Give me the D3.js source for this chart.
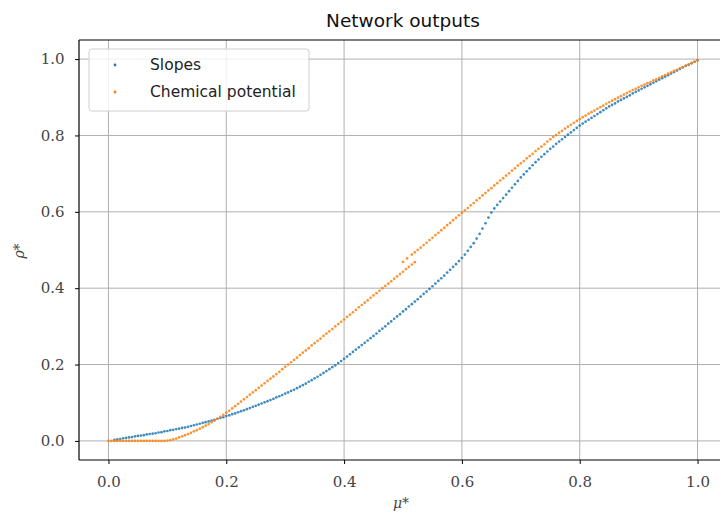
<!DOCTYPE html>
<html><head><meta charset="utf-8">
<script src="https://cdn.jsdelivr.net/npm/d3@7"></script>
<style>body{margin:0;background:#fff}</style>
</head><body>
<svg id="c" width="720" height="516"></svg>
<script>
const title = "Network outputs";
const seriesNames = ["Slopes", "Chemical potential"];
const xTicks = [0.0, 0.2, 0.4, 0.6, 0.8, 1.0];
const yTicks = [0.0, 0.2, 0.4, 0.6, 0.8, 1.0];
const xLabel = "μ*";
const yLabel = "ρ*";

const slopesX = [
0.010,0.015,0.020,0.025,0.030,0.035,0.040,0.045,0.050,0.055,0.060,0.065,0.070,0.075,0.080,0.085,0.090,0.095,0.100,
0.105,0.110,0.115,0.120,0.125,0.130,0.135,0.140,0.145,0.150,0.155,0.160,0.165,0.170,0.175,0.180,0.185,0.190,0.195,0.200,
0.205,0.210,0.215,0.220,0.225,0.230,0.235,0.240,0.245,0.250,0.255,0.260,0.265,0.270,0.275,0.280,0.285,0.290,0.295,0.300,
0.305,0.310,0.315,0.320,0.325,0.330,0.335,0.340,0.345,0.350,0.355,0.360,0.365,0.370,0.375,0.380,0.385,0.390,0.395,0.400,
0.405,0.410,0.415,0.420,0.425,0.430,0.435,0.440,0.445,0.450,0.455,0.460,0.465,0.470,0.475,0.480,0.485,0.490,0.495,0.500,
0.505,0.510,0.515,0.520,0.525,0.530,0.535,0.540,0.545,0.550,0.555,0.560,0.565,0.570,0.575,0.580,0.585,0.590,0.595,0.600,
0.605,0.610,0.615,0.620,0.625,0.630,0.635,0.640,0.645,0.650,0.655,0.660,0.665,0.670,0.675,0.680,0.685,0.690,0.695,0.700,
0.705,0.710,0.715,0.720,0.725,0.730,0.735,0.740,0.745,0.750,0.755,0.760,0.765,0.770,0.775,0.780,0.785,0.790,0.795,0.800,
0.805,0.810,0.815,0.820,0.825,0.830,0.835,0.840,0.845,0.850,0.855,0.860,0.865,0.870,0.875,0.880,0.885,0.890,0.895,0.900,
0.905,0.910,0.915,0.920,0.925,0.930,0.935,0.940,0.945,0.950,0.955,0.960,0.965,0.970,0.975,0.980,0.985,0.990,0.995,1.000];
const slopesY = [
0.003,0.004,0.005,0.007,0.008,0.009,0.010,0.012,0.013,0.014,0.015,0.017,0.018,0.019,0.020,0.022,0.023,0.025,0.026,
0.028,0.029,0.031,0.032,0.034,0.035,0.037,0.039,0.041,0.043,0.045,0.047,0.049,0.051,0.053,0.055,0.058,0.060,0.062,0.065,
0.067,0.070,0.072,0.075,0.078,0.080,0.083,0.086,0.089,0.092,0.095,0.098,0.101,0.104,0.107,0.110,0.114,0.117,0.120,0.124,
0.127,0.131,0.134,0.138,0.142,0.146,0.150,0.155,0.159,0.164,0.168,0.173,0.178,0.183,0.188,0.193,0.198,0.204,0.209,0.215,
0.221,0.227,0.233,0.239,0.245,0.251,0.257,0.263,0.269,0.275,0.281,0.288,0.294,0.300,0.307,0.313,0.320,0.326,0.332,0.339,
0.345,0.352,0.358,0.365,0.371,0.378,0.385,0.391,0.398,0.405,0.412,0.419,0.426,0.433,0.441,0.448,0.456,0.463,0.471,0.479,
0.488,0.498,0.508,0.518,0.530,0.542,0.556,0.570,0.585,0.598,0.609,0.618,0.627,0.636,0.645,0.654,0.663,0.672,0.681,0.690,
0.698,0.706,0.714,0.722,0.730,0.737,0.744,0.751,0.758,0.765,0.771,0.778,0.784,0.790,0.796,0.802,0.808,0.814,0.820,0.826,
0.831,0.836,0.841,0.846,0.851,0.856,0.861,0.866,0.871,0.876,0.880,0.884,0.889,0.893,0.897,0.901,0.905,0.910,0.914,0.918,
0.922,0.926,0.930,0.934,0.938,0.942,0.946,0.950,0.954,0.958,0.962,0.966,0.970,0.974,0.978,0.982,0.985,0.989,0.993,0.997];

const chemLowX = [
0.000,0.005,0.010,0.015,0.020,0.025,0.030,0.035,0.040,0.045,0.050,0.055,0.060,0.065,0.070,0.075,0.080,0.085,0.090,0.095,0.100,
0.105,0.110,0.115,0.120,0.125,0.130,0.135,0.140,0.145,0.150,0.155,0.160,0.165,0.170,0.175,0.180,0.185,0.190,0.195,0.200,
0.205,0.210,0.215,0.220,0.225,0.230,0.235,0.240,0.245,0.250,0.255,0.260,0.265,0.270,0.275,0.280,0.285,0.290,0.295,0.300,
0.305,0.310,0.315,0.320,0.325,0.330,0.335,0.340,0.345,0.350,0.355,0.360,0.365,0.370,0.375,0.380,0.385,0.390,0.395,0.400,
0.405,0.410,0.415,0.420,0.425,0.430,0.435,0.440,0.445,0.450,0.455,0.460,0.465,0.470,0.475,0.480,0.485,0.490,0.495,0.500,
0.505,0.510,0.515,0.520];
const chemLowY = [
0.000,0.000,0.000,0.000,0.000,0.000,0.000,0.000,0.000,0.000,0.000,0.000,0.000,0.000,0.000,0.000,0.000,0.000,0.000,0.000,0.001,
0.002,0.004,0.006,0.009,0.012,0.015,0.018,0.021,0.025,0.028,0.032,0.036,0.040,0.044,0.049,0.053,0.058,0.063,0.068,0.074,
0.079,0.085,0.091,0.097,0.103,0.109,0.115,0.121,0.127,0.133,0.139,0.145,0.151,0.157,0.163,0.169,0.175,0.181,0.188,0.194,
0.200,0.206,0.212,0.218,0.225,0.231,0.237,0.243,0.250,0.256,0.262,0.268,0.275,0.281,0.287,0.293,0.300,0.306,0.312,0.318,
0.325,0.331,0.337,0.343,0.350,0.356,0.362,0.368,0.375,0.381,0.387,0.393,0.400,0.406,0.412,0.418,0.425,0.431,0.437,0.443,
0.450,0.456,0.462,0.468];
const chemUpX = [
0.500,0.507,0.515,0.520,0.525,0.530,0.535,0.540,0.545,0.550,0.555,0.560,0.565,0.570,0.575,0.580,0.585,0.590,0.595,0.600,
0.605,0.610,0.615,0.620,0.625,0.630,0.635,0.640,0.645,0.650,0.655,0.660,0.665,0.670,0.675,0.680,0.685,0.690,0.695,0.700,
0.705,0.710,0.715,0.720,0.725,0.730,0.735,0.740,0.745,0.750,0.755,0.760,0.765,0.770,0.775,0.780,0.785,0.790,0.795,0.800,
0.805,0.810,0.815,0.820,0.825,0.830,0.835,0.840,0.845,0.850,0.855,0.860,0.865,0.870,0.875,0.880,0.885,0.890,0.895,0.900,
0.905,0.910,0.915,0.920,0.925,0.930,0.935,0.940,0.945,0.950,0.955,0.960,0.965,0.970,0.975,0.980,0.985,0.990,0.995,1.000];
const chemUpY = [
0.469,0.478,0.488,0.494,0.500,0.506,0.513,0.519,0.526,0.532,0.539,0.545,0.552,0.558,0.565,0.571,0.578,0.584,0.591,0.597,
0.604,0.610,0.617,0.623,0.630,0.636,0.643,0.649,0.656,0.662,0.669,0.675,0.682,0.688,0.695,0.701,0.708,0.714,0.721,0.727,
0.733,0.740,0.746,0.752,0.759,0.765,0.771,0.777,0.784,0.790,0.796,0.801,0.807,0.812,0.818,0.823,0.828,0.833,0.838,0.843,
0.848,0.852,0.857,0.861,0.865,0.870,0.874,0.878,0.883,0.887,0.891,0.895,0.899,0.903,0.907,0.911,0.915,0.919,0.922,0.926,
0.930,0.933,0.937,0.940,0.944,0.947,0.951,0.955,0.958,0.962,0.965,0.969,0.972,0.976,0.979,0.983,0.986,0.990,0.993,0.997];

const colors = ["#1f77b4", "#ff7f0e"];

const W = 720, H = 516;
const m = {left: 79, right: 727, top: 40, bottom: 460};
const svg = d3.select("#c");
const x = d3.scaleLinear().domain([-0.05, 1.05]).range([m.left, m.right]);
const y = d3.scaleLinear().domain([-0.05, 1.05]).range([m.bottom, m.top]);

svg.append("rect").attr("width", W).attr("height", H).attr("fill", "#fff");

// grid
const grid = svg.append("g");
grid.selectAll(".gx").data(xTicks).join("line")
  .attr("x1", d => x(d)).attr("x2", d => x(d)).attr("y1", m.top).attr("y2", m.bottom)
  .attr("stroke", "#b0b0b0").attr("stroke-width", 1);
grid.selectAll(".gy").data(yTicks).join("line")
  .attr("y1", d => y(d)).attr("y2", d => y(d)).attr("x1", m.left).attr("x2", m.right)
  .attr("stroke", "#b0b0b0").attr("stroke-width", 1);

// points
const toPts = (xs, ys) => xs.map((v, i) => [v, ys[i]]);
const series = [
  {pts: toPts(slopesX, slopesY), c: colors[0]},
  {pts: toPts(chemLowX, chemLowY).concat(toPts(chemUpX, chemUpY)), c: colors[1]}
];
series.forEach(s => {
  svg.append("g").selectAll("circle").data(s.pts).join("circle")
    .attr("cx", d => x(d[0])).attr("cy", d => y(d[1])).attr("r", 1.35)
    .attr("fill", s.c).attr("opacity", 0.85);
});

// axes
const fmt = d3.format(".1f");
const xAxis = d3.axisBottom(x).tickValues(xTicks).tickFormat(fmt).tickSize(4).tickSizeOuter(0);
const yAxis = d3.axisLeft(y).tickValues(yTicks).tickFormat(fmt).tickSize(4).tickSizeOuter(0);
const gx = svg.append("g").attr("transform", `translate(0,${m.bottom})`).call(xAxis);
const gy = svg.append("g").attr("transform", `translate(${m.left},0)`).call(yAxis);
[gx, gy].forEach(g => {
  g.select(".domain").remove();
  g.selectAll(".tick line").attr("stroke", "#000").attr("stroke-width", 1);
  g.selectAll(".tick text").attr("font-family", "DejaVu Serif").attr("font-size", 15).attr("fill", "#444");
});
gx.selectAll(".tick text").attr("dy", "1.3em");
gy.selectAll(".tick text").attr("dx", "-0.5em");

// spines
[[m.left, m.left, m.top, m.bottom], [m.left, m.right, m.bottom, m.bottom],
 [m.left, m.right, m.top, m.top], [m.right, m.right, m.top, m.bottom]].forEach(s => {
  svg.append("line").attr("x1", s[0]).attr("x2", s[1]).attr("y1", s[2]).attr("y2", s[3])
    .attr("stroke", "#000").attr("stroke-width", 1.2);
});

// labels
svg.append("text").attr("x", (m.left + m.right) / 2).attr("y", 27).attr("text-anchor", "middle")
  .attr("font-family", "DejaVu Sans").attr("font-size", 18.5).attr("fill", "#111").text(title);
svg.append("text").attr("x", 401).attr("y", 508).attr("text-anchor", "middle")
  .attr("font-family", "DejaVu Serif").attr("font-style", "italic").attr("font-size", 14).attr("fill", "#444").text(xLabel);
svg.append("text").attr("transform", "translate(24,251) rotate(-90)").attr("text-anchor", "middle")
  .attr("font-family", "DejaVu Serif").attr("font-style", "italic").attr("font-size", 14).attr("fill", "#444").text(yLabel);

// legend
const lg = svg.append("g");
lg.append("rect").attr("x", 89).attr("y", 49).attr("width", 220).attr("height", 62).attr("rx", 3)
  .attr("fill", "#fff").attr("fill-opacity", 0.8).attr("stroke", "#d0d0d0").attr("stroke-width", 1);
seriesNames.forEach((n, i) => {
  lg.append("circle").attr("cx", 115).attr("cy", 65 + i * 27).attr("r", 1.4).attr("fill", colors[i]);
  lg.append("text").attr("x", 150).attr("y", 70 + i * 27).attr("font-family", "DejaVu Sans")
    .attr("font-size", 15.5).attr("fill", "#222").text(n);
});
</script>
</body></html>
